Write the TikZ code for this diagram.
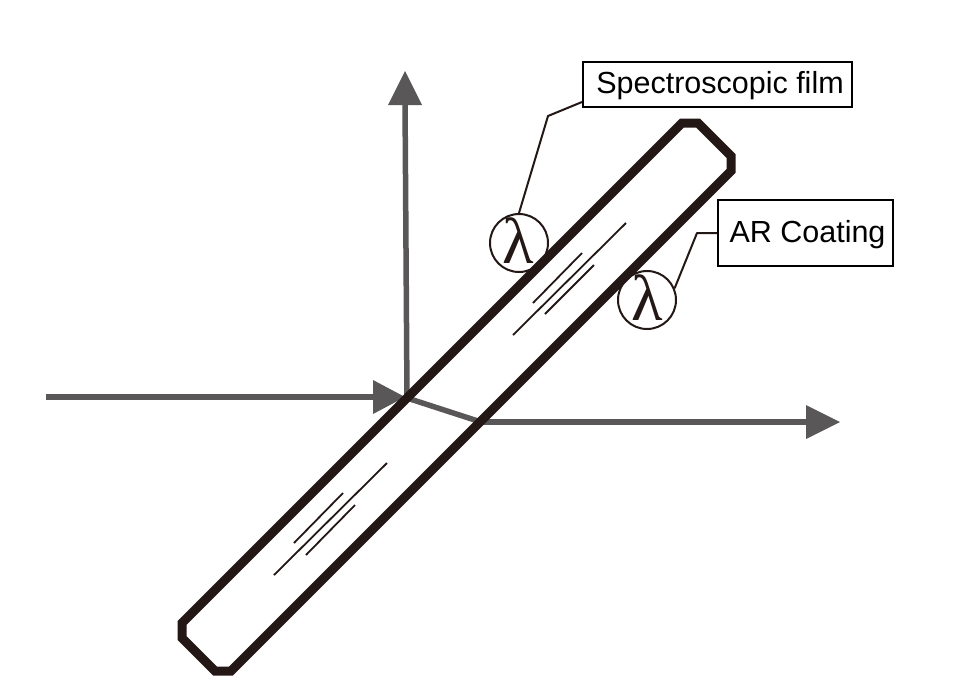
\documentclass[tikz,border=0pt]{standalone}
\usepackage{fontspec}
\setmainfont{Liberation Sans}
\newfontfamily\lamfont{Liberation Serif}
\usetikzlibrary{calc}
\definecolor{bandink}{HTML}{231815}
\definecolor{raygray}{HTML}{595757}
\tikzset{
  ray/.style={draw=raygray,line width=5.5pt},
  rayhead/.style={fill=raygray,draw=none},
  filmfill/.style={fill=white,draw=none},
  filmedge/.style={draw=bandink,line width=9pt,line join=miter},
  glint/.style={draw=bandink,line width=1.8pt},
  leader/.style={draw=bandink,line width=2pt,line join=round},
  labelbox/.style={draw=black,line width=2pt,fill=white,inner sep=0pt},
  labeltext/.style={inner sep=0pt,font=\fontsize{30.5}{30.5}\selectfont},
  lamcircle/.style={circle,draw=bandink,line width=2pt,fill=white,minimum size=58pt,inner sep=0pt},
  lamglyph/.style={inner sep=0pt,font=\lamfont\fontsize{65}{65}\selectfont,text=bandink}
}
\begin{document}
\begin{tikzpicture}[x=1pt,y=-1pt]
\useasboundingbox (0,0) rectangle (956,697);
\coordinate (hit) at (407,398);
\coordinate (exit) at (481,422);
\coordinate (instart) at (46,397);
\coordinate (outend) at (810,422);
\coordinate (uptop) at (405,100);
% rays under the film
\draw[ray] (instart) -- (380,397);
\draw[ray] (hit) -- (uptop);
\draw[ray] (exit) -- (outend);
\fill[rayhead] (373,380) -- (405,397) -- (373,414) -- cycle;
\fill[rayhead] (388,105) -- (405,71) -- (422,105) -- cycle;
\fill[rayhead] (806,405) -- (840,422) -- (806,439) -- cycle;
% circles
\node[lamcircle] (lamA) at (519,243) {};
\node[lamcircle] (lamB) at (647,300) {};
\node[lamglyph] (glyphA) at (518,241) {λ};
\node[lamglyph] (glyphB) at (647,298) {λ};
% film
\path[filmfill] (682,123) -- (698,123) -- (731,156) -- (731,171) -- (231,671) -- (215,671) -- (182,638) -- (182,623) -- cycle;
\draw[ray] (hit) -- (exit);
\draw[filmedge] (682,123) -- (698,123) -- (731,156) -- (731,171) -- (231,671) -- (215,671) -- (182,638) -- (182,623) -- cycle;
\draw[glint] (513,335) -- (626,223);
\draw[glint] (533,303) -- (582,253);
\draw[glint] (545,314) -- (594,265);
\draw[glint] (274,575) -- (387,463);
\draw[glint] (294,543) -- (343,493);
\draw[glint] (306,555) -- (355,505);
% boxes
\node[labelbox,minimum width=269pt,minimum height=45pt] (specbox) at (717.5,84.5) {};
\node[labelbox,minimum width=175pt,minimum height=66pt] (arbox) at (805.5,233) {};
\node[labeltext] (spectext) at (720,86) {Spectroscopic film};
\node[labeltext] (artext) at (807.5,235) {AR Coating};
% leaders
\coordinate (bendA) at (548,116);
\coordinate (bendB) at (697,233);
\draw[leader] ($(specbox.south west)+(0,-6)$) -- (bendA) -- (lamA.90);
\draw[leader] (arbox.west) -- (bendB) -- (lamB.23);
\end{tikzpicture}
\end{document}
